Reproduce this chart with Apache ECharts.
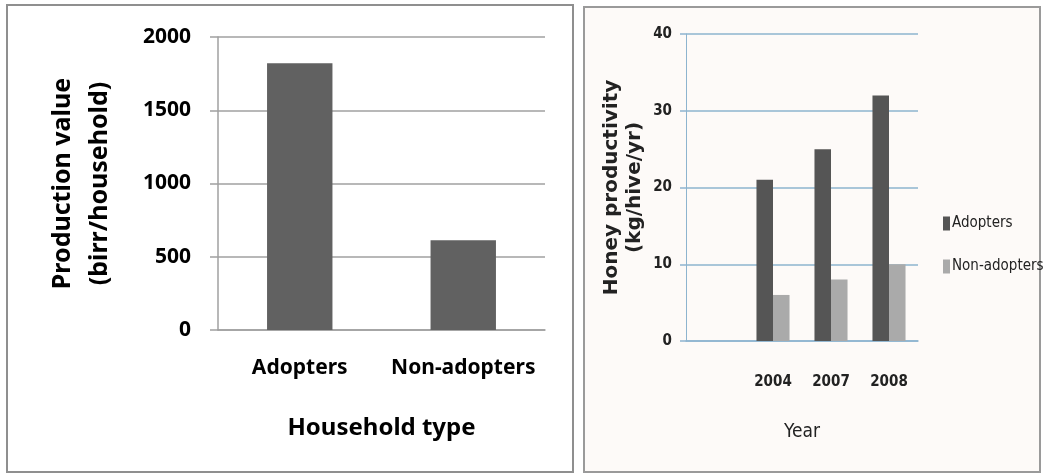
<!DOCTYPE html>
<html>
<head>
<meta charset="utf-8">
<script src="https://cdn.jsdelivr.net/npm/echarts@6/dist/echarts.min.js"></script>
<style>
html, body { margin: 0; padding: 0; background: #fff; }
#main { width: 1045px; height: 476px; }
</style>
</head>
<body>
<div id="main"></div>
<script>
// left panel: production value per household
var householdTypes = ["Adopters", "Non-adopters"];
var productionValue = [1820, 612];

// right panel: honey productivity (first category left empty, as in the source chart)
var years = ["", "2004", "2007", "2008"];
var adoptersYield = ["-", 21, 25, 32];
var nonAdoptersYield = ["-", 6, 8, 10];

var leftFont = "'Noto Sans', sans-serif";
var rightFont = "'DejaVu Sans Condensed', sans-serif";

var chart = echarts.init(document.getElementById("main"));

var option = {
  backgroundColor: "#fff",
  animation: false,
  graphic: [
    {
      type: "rect",
      shape: { x: 7, y: 5, width: 566, height: 467 },
      style: { fill: "#fff", stroke: "#8f8f8f", lineWidth: 2 },
      z: -10
    },
    {
      type: "rect",
      shape: { x: 584, y: 7, width: 456, height: 465 },
      style: { fill: "#fdfaf8", stroke: "#9a9a9a", lineWidth: 2 },
      z: -10
    }
  ],
  legend: {
    data: ["Adopters", "Non-adopters"],
    orient: "vertical",
    left: 938,
    top: 211,
    itemWidth: 7,
    itemHeight: 14,
    itemGap: 28,
    icon: "rect",
    textStyle: { fontFamily: rightFont, fontSize: 15, color: "#222", padding: [0, 0, 0, -3] }
  },
  grid: [
    { left: 218, right: 500, top: 37, bottom: 146 },
    { left: 686, right: 127, top: 34, bottom: 135 }
  ],
  xAxis: [
    {
      gridIndex: 0,
      type: "category",
      data: householdTypes,
      axisLine: { lineStyle: { color: "#a0a0a0", width: 1.5 } },
      axisTick: { show: false },
      axisLabel: { interval: 0, color: "#000", fontFamily: leftFont, fontWeight: "bold", fontSize: 21, margin: 28 },
      name: "Household type",
      nameLocation: "middle",
      nameGap: 86,
      nameTextStyle: { color: "#000", fontFamily: leftFont, fontWeight: "bold", fontSize: 24 }
    },
    {
      gridIndex: 1,
      type: "category",
      data: years,
      axisLine: { lineStyle: { color: "#8db4cf", width: 1.5 } },
      axisTick: { show: false },
      axisLabel: { interval: 0, color: "#222", fontFamily: rightFont, fontSize: 15, fontWeight: "bold", margin: 34 },
      name: "Year",
      nameLocation: "middle",
      nameGap: 82,
      nameTextStyle: { color: "#222", fontFamily: rightFont, fontSize: 19 }
    }
  ],
  yAxis: [
    {
      gridIndex: 0,
      type: "value",
      min: 0,
      max: 2000,
      interval: 500,
      axisLine: { show: true, lineStyle: { color: "#a0a0a0", width: 1.5 } },
      axisTick: { show: true, length: 8, lineStyle: { color: "#a0a0a0", width: 1.5 } },
      splitLine: { lineStyle: { color: "#a0a0a0", width: 1.5 } },
      axisLabel: {
        color: "#000", fontFamily: leftFont, fontWeight: "bold", fontSize: 21, margin: 27,
        formatter: function (v) { return String(v); }
      },
      name: "Production value\n(birr/household)",
      nameLocation: "middle",
      nameRotate: 90,
      nameGap: 100,
      nameTextStyle: { color: "#000", fontFamily: leftFont, fontWeight: "bold", fontSize: 25, lineHeight: 37 }
    },
    {
      gridIndex: 1,
      type: "value",
      min: 0,
      max: 40,
      interval: 10,
      axisLine: { show: true, lineStyle: { color: "#8db4cf", width: 1 } },
      axisTick: { show: true, length: 6, lineStyle: { color: "#8db4cf", width: 1.5 } },
      splitLine: { lineStyle: { color: "#8db4cf", width: 1.5 } },
      axisLabel: { color: "#222", fontFamily: rightFont, fontSize: 15, fontWeight: "bold", margin: 14 },
      name: "Honey productivity\n(kg/hive/yr)",
      nameLocation: "middle",
      nameRotate: 90,
      nameGap: 40,
      nameTextStyle: { color: "#222", fontFamily: "DejaVu Sans", fontWeight: "bold", fontSize: 20, lineHeight: 23 }
    }
  ],
  series: [
    {
      name: "Production value",
      type: "bar",
      xAxisIndex: 0,
      yAxisIndex: 0,
      data: productionValue,
      barCategoryGap: "60%",
      itemStyle: { color: "#616161" }
    },
    {
      name: "Adopters",
      type: "bar",
      xAxisIndex: 1,
      yAxisIndex: 1,
      data: adoptersYield,
      barGap: "0%",
      barCategoryGap: "43%",
      itemStyle: { color: "#555555" }
    },
    {
      name: "Non-adopters",
      type: "bar",
      xAxisIndex: 1,
      yAxisIndex: 1,
      data: nonAdoptersYield,
      barGap: "0%",
      barCategoryGap: "43%",
      itemStyle: { color: "#aaaaaa" }
    }
  ]
};

chart.setOption(option);
</script>
</body>
</html>
